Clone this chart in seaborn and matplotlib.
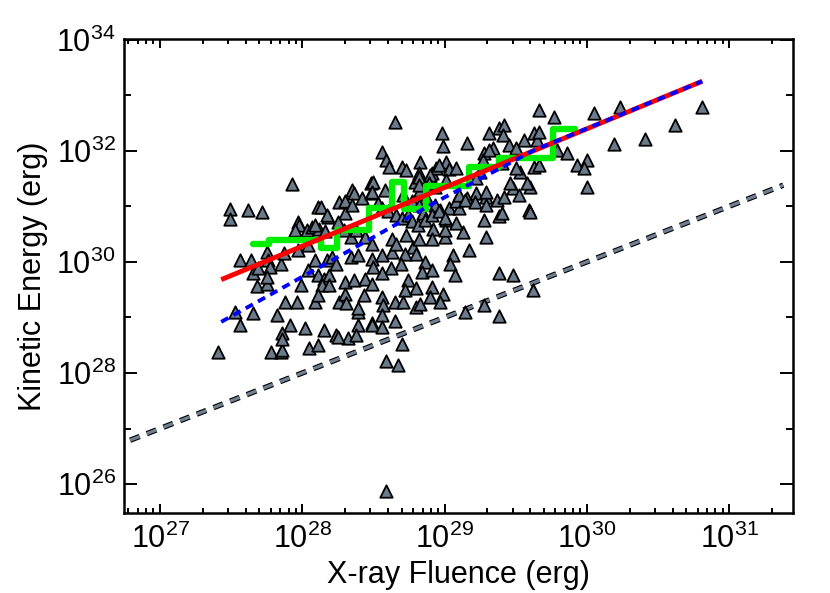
import numpy as np
import matplotlib
matplotlib.use("Agg")
import matplotlib.pyplot as plt
import seaborn as sns
from matplotlib import patheffects as pe
from matplotlib.ticker import FixedLocator, LogLocator, LogFormatterSciNotation, NullFormatter

# event values, as log10(erg)
log_fluence = [
    27.41, 27.49, 27.49, 27.62, 27.72, 27.93, 27.56, 27.64, 27.75, 27.76,
    27.85, 27.87, 27.65, 27.69, 27.77, 27.68, 27.75, 27.75, 27.53, 27.65,
    27.56, 27.88, 27.96, 27.82, 27.99, 28.09, 27.91, 27.86, 28.02, 28.15,
    28.24, 28.32, 28.39, 28.39, 27.78, 27.85, 27.86, 28.05, 28.11, 28.25,
    28.38, 27.86, 28.11, 28.13, 28.26, 28.35, 28.36, 28.42, 28.48, 28.48,
    28.30, 28.18, 27.97, 27.98, 27.95, 28.03, 28.07, 28.12, 28.25, 28.29,
    28.34, 28.38, 28.44, 28.49, 27.97, 28.04, 28.09, 28.17, 28.21, 28.24,
    28.34, 28.39, 28.49, 28.04, 28.11, 28.15, 28.19, 28.14, 28.19, 28.30,
    28.36, 28.44, 28.49, 28.11, 28.26, 28.30, 28.31, 28.43, 28.39, 28.49,
    28.65, 28.98, 28.99, 29.16, 29.31, 29.38, 29.42, 29.41, 29.34, 29.45,
    29.56, 29.63, 29.65, 28.56, 28.59, 28.83, 28.70, 28.73, 28.82, 28.91,
    28.94, 29.01, 29.03, 29.08, 29.28, 29.40, 29.25, 29.22, 29.01, 28.93,
    28.79, 28.83, 28.87, 28.50, 28.49, 28.58, 28.71, 28.77, 28.82, 28.85,
    28.93, 28.97, 29.03, 29.10, 29.08, 29.16, 29.22, 29.29, 29.37, 29.42,
    29.48, 29.52, 29.60, 29.53, 29.63, 29.59, 29.29, 29.38, 29.28, 29.29,
    29.13, 29.17, 29.00, 28.92, 28.91, 29.01, 29.08, 29.06, 29.04, 28.86,
    28.84, 28.91, 29.07, 28.78, 28.80, 28.72, 28.69, 28.63, 28.56, 28.62,
    28.56, 28.50, 28.74, 28.72, 28.80, 28.91, 28.99, 28.90, 28.65, 28.71,
    28.56, 28.57, 28.80, 28.97, 29.38, 29.48, 29.62, 29.28, 29.14, 29.38,
    28.56, 28.49, 28.56, 28.65, 28.70, 28.59, 28.67, 28.59, 28.83, 29.66,
    29.77, 30.05, 30.23, 30.81, 30.62, 30.41, 30.19, 29.66, 29.79, 29.86,
    29.93, 30.00, 29.98, 30.00, 29.66, 28.61, 28.82, 28.90, 28.96, 28.30,
    28.35, 28.17, 28.09, 28.16, 28.53, 28.56, 28.60, 28.66, 28.70, 28.74,
    28.77, 28.81, 28.86, 28.91, 28.96, 29.00, 28.82, 28.89, 29.10, 29.14,
    29.21, 29.00, 28.82, 28.73, 28.63, 28.66, 29.27, 29.31, 29.50, 29.50,
    29.46, 29.58, 29.29, 29.40, 29.60,
]
log_energy = [
    28.38, 30.95, 30.77, 30.93, 30.89, 31.40, 30.04, 30.03, 30.17, 30.03,
    29.97, 30.16, 29.80, 29.89, 29.91, 29.57, 29.60, 29.73, 29.10, 29.08,
    28.87, 29.28, 29.28, 29.05, 29.58, 29.28, 28.87, 28.72, 28.81, 28.78,
    28.69, 28.63, 28.87, 29.10, 28.37, 28.37, 28.41, 28.45, 28.51, 28.65,
    28.69, 28.62, 30.99, 30.99, 31.07, 31.29, 31.24, 31.14, 31.41, 31.23,
    30.87, 30.81, 30.72, 30.66, 30.57, 30.57, 30.63, 30.60, 30.72, 30.57,
    30.45, 30.57, 30.45, 30.33, 30.21, 30.30, 30.03, 30.03, 30.09, 29.97,
    30.09, 30.12, 30.06, 29.85, 29.76, 29.70, 29.76, 29.58, 29.58, 29.64,
    29.67, 29.70, 29.61, 29.40, 29.28, 29.43, 29.26, 29.40, 29.17, 28.90,
    32.52, 32.31, 32.08, 32.13, 32.31, 32.40, 32.46, 32.28, 32.05, 32.10,
    32.19, 32.32, 32.19, 31.98, 31.83, 31.80, 31.71, 31.65, 31.59, 31.59,
    31.68, 31.80, 31.67, 31.68, 31.95, 31.77, 31.62, 31.50, 31.47, 31.35,
    31.44, 31.29, 31.17, 31.44, 31.26, 31.29, 31.20, 31.09, 31.03, 30.87,
    31.03, 30.94, 30.97, 30.97, 31.09, 31.14, 31.23, 31.17, 31.11, 31.17,
    31.32, 31.20, 31.35, 31.62, 31.71, 30.94, 31.03, 30.83, 30.75, 30.45,
    30.54, 30.21, 30.45, 30.60, 30.42, 30.75, 30.70, 30.12, 29.97, 30.00,
    29.82, 29.85, 29.76, 30.27, 30.15, 30.15, 29.97, 30.18, 30.12, 29.89,
    29.80, 29.91, 29.67, 29.49, 29.53, 29.55, 29.43, 29.37, 29.28, 29.28,
    29.37, 29.22, 29.19, 29.28, 29.80, 29.76, 29.49, 29.22, 29.10, 29.03,
    29.04, 28.87, 28.83, 28.93, 28.52, 28.21, 28.15, 25.87, 29.25, 32.73,
    32.61, 32.67, 32.79, 32.79, 32.46, 32.21, 32.12, 32.33, 32.01, 31.95,
    31.74, 31.83, 31.68, 31.35, 31.74, 31.71, 31.53, 31.56, 31.74, 31.09,
    31.03, 30.84, 30.66, 30.55, 31.06, 30.97, 30.91, 30.85, 30.79, 30.85,
    30.73, 30.67, 30.76, 30.85, 30.91, 30.79, 31.38, 31.41, 31.20, 31.11,
    31.08, 30.57, 30.42, 30.48, 30.42, 30.33, 31.83, 32.01, 32.05, 31.68,
    31.41, 31.41, 31.26, 30.87, 30.90,
]

# binned medians (step edges and bin values), log10
bin_edges = [27.654, 27.766, 28.131, 28.244, 28.469, 28.630, 28.715,
             28.869, 29.171, 29.382, 29.762, 29.916]
bin_values = [30.32, 30.40, 30.25, 30.57, 30.97, 31.44, 30.95, 31.37,
              31.71, 31.87, 32.39]

# power-law fit (red) and second fit (blue), log10
fit_x = [27.43, 30.81]
fit_y = [29.68, 33.25]
fit2_x = [27.43, 27.67, 28.02, 28.49, 28.94, 29.41, 29.62, 30.81]
fit2_y = [28.92, 29.26, 29.76, 30.43, 31.08, 31.71, 32.00, 33.25]

# equality line, log10
equal_x = [26.79, 31.38]
equal_y = [26.79, 31.38]

sns.set_style("ticks")
plt.rcParams["font.family"] = ["Liberation Sans Narrow", "Liberation Sans", "DejaVu Sans"]
plt.rcParams["axes.linewidth"] = 1.8
plt.rcParams["axes.edgecolor"] = "black"
plt.rcParams["xtick.color"] = "black"
plt.rcParams["ytick.color"] = "black"
plt.rcParams["text.color"] = "black"
plt.rcParams["axes.labelcolor"] = "black"

fig = plt.figure(figsize=(8.3, 5.93), dpi=100)
ax = fig.add_axes([0.1494, 0.1349, 0.806, 0.7993])
ax.set_xscale("log")
ax.set_yscale("log")

ax.plot(10.0 ** np.array(equal_x), 10.0 ** np.array(equal_y), color="#708090",
        lw=2.3, ls=(0, (3.2, 2.4)), solid_capstyle="butt", zorder=1.5,
        path_effects=[pe.Stroke(linewidth=3.9, foreground="black"), pe.Normal()])

sns.scatterplot(x=10.0 ** np.array(log_fluence), y=10.0 ** np.array(log_energy),
                marker="^", s=80, color="#6b7b8b", edgecolor="black",
                linewidth=1.3, ax=ax, zorder=2)

ax.step(10.0 ** np.array(bin_edges), 10.0 ** np.array(bin_values + bin_values[-1:]),
        where="post", color="#00ee00", lw=4.6, zorder=3)
ax.plot(10.0 ** np.array(fit_x), 10.0 ** np.array(fit_y), color="#ff0000",
        lw=3.5, solid_capstyle="butt", zorder=4)
ax.plot(10.0 ** np.array(fit2_x), 10.0 ** np.array(fit2_y), color="#0000ff",
        lw=2.8, ls=(0, (2.1, 1.5)), zorder=5)

ax.set_xlim(10 ** 26.747, 10 ** 31.448)
ax.set_ylim(10 ** 25.48, 10 ** 34.01)

ax.xaxis.set_major_locator(LogLocator(base=10))
ax.xaxis.set_minor_locator(LogLocator(base=10, subs=np.arange(2, 10)))
ax.xaxis.set_minor_formatter(NullFormatter())
ax.yaxis.set_major_locator(FixedLocator(10.0 ** np.arange(26, 35, 2)))
ax.yaxis.set_major_formatter(LogFormatterSciNotation())
ax.yaxis.set_minor_locator(FixedLocator(10.0 ** np.arange(25, 34, 2)))
ax.yaxis.set_minor_formatter(NullFormatter())

ax.tick_params(axis="x", which="major", direction="in", length=6.6, width=1.4,
               top=True, bottom=True, pad=8, labelsize=22)
ax.tick_params(axis="x", which="minor", direction="in", length=3.4, width=1.4,
               top=True, bottom=True)
ax.tick_params(axis="y", which="major", direction="in", length=9.4, width=1.4,
               left=True, right=True, pad=6, labelsize=22)
ax.tick_params(axis="y", which="minor", direction="in", length=4.7, width=1.4,
               left=True, right=True)

label_font = ["Liberation Sans", "DejaVu Sans"]
ax.set_xlabel("X-ray Fluence (erg)", fontsize=22, family=label_font, labelpad=3)
ax.set_ylabel("Kinetic Energy (erg)", fontsize=22, family=label_font, labelpad=6)

fig.savefig("out.png", dpi=100)
